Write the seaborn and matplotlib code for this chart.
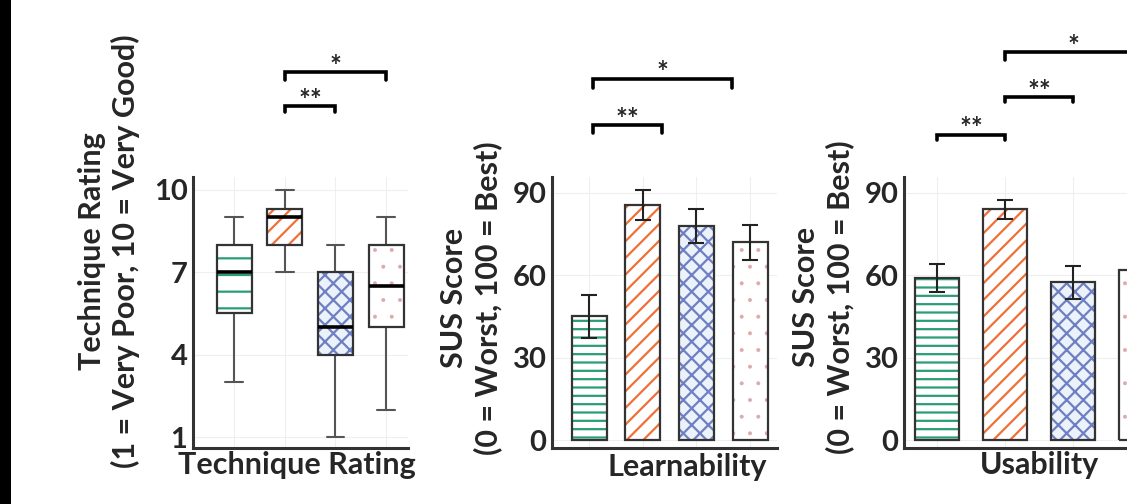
import matplotlib
matplotlib.use("Agg")
import matplotlib.pyplot as plt
import matplotlib.patches as mpatches
import seaborn as sns
import pandas as pd

# ---------------- data ----------------
techniques = ["A", "B", "C", "D"]
# five-number summaries (min, Q1, median, Q3, max)
rating_a = [3, 5.5, 7, 8, 9]
rating_b = [7, 8, 9, 9.3, 10]
rating_c = [1, 4, 5, 7, 8]
rating_d = [2, 5, 6.5, 8, 9]

learn_mean = [45, 85.5, 78, 72]
learn_err = [8, 5.5, 6.3, 6.5]
usab_mean = [59, 84, 57.5, 62]
usab_err = [5, 3.5, 6, 5]

rating_ticks = [1, 4, 7, 10]
sus_ticks = [0, 30, 60, 90]

hatch_colors = ["#2a9d78", "#f07038", "#6f7fc4", "#dcaaaa"]
fill_colors = ["#ffffff", "#ffffff", "#e9f2fc", "#ffffff"]
box_hatches = ["-", "//", "xx", "."]
bar_hatches = ["--", "//", "xx", "."]
EDGE = "#333333"

# ---------------- style ----------------
sns.set_theme(style="white")
plt.rcParams["font.family"] = ["Lato", "DejaVu Sans"]
plt.rcParams["font.weight"] = "bold"
plt.rcParams["hatch.linewidth"] = 1.6

W, H = 1127, 504
fig = plt.figure(figsize=(W / 100, H / 100), dpi=100)


def ax_at(x0, x1, y0, y1):
    return fig.add_axes([x0 / W, 1 - y1 / H, (x1 - x0) / W, (y1 - y0) / H])


def style_ax(ax, yticks):
    for s in ["top", "right"]:
        ax.spines[s].set_visible(False)
    for s in ["left", "bottom"]:
        ax.spines[s].set_color(EDGE)
        ax.spines[s].set_linewidth(2.2)
    ax.set_yticks(yticks)
    ax.set_yticklabels([str(t) for t in yticks], fontsize=21, fontweight="bold")
    ax.tick_params(axis="both", length=0, pad=4)
    ax.set_xticks(range(4))
    ax.set_xticklabels([""] * 4)
    ax.grid(True, color="#efefef", lw=0.8)
    ax.set_axisbelow(True)
    ax.set_xlabel("")
    ax.set_ylabel("")


def bracket(ax, x0, x1, y, drop, label):
    ax.plot([x0, x0, x1, x1], [y - drop, y, y, y - drop], color="black",
            lw=2.6, clip_on=False, solid_joinstyle="miter")
    ax.annotate(label, xy=((x0 + x1) / 2, y), xytext=(0, -2),
                textcoords="offset points", ha="center", va="baseline",
                fontsize=20, fontweight="bold", annotation_clip=False)


def hatch_patch(ax, p, i, hatches):
    p.set_hatch(hatches[i])
    p.set_edgecolor(hatch_colors[i])
    p.set_linewidth(0)
    if i == 3 and hasattr(p, "set_hatch_linewidth"):
        p.set_hatch_linewidth(0.4)


# ---------------- panel 1: box plot ----------------
ax1 = ax_at(193, 408, 177, 448)
df1 = pd.DataFrame({
    "tech": sum([[t] * 5 for t in techniques], []),
    "rating": rating_a + rating_b + rating_c + rating_d,
})
sns.boxplot(data=df1, x="tech", y="rating", hue="tech", palette=fill_colors,
            legend=False, width=0.69, whis=1.5, ax=ax1,
            linecolor="#555555", linewidth=1.5,
            medianprops=dict(color="black", lw=2.6, zorder=6),
            whiskerprops=dict(color="#555555", lw=1.5),
            capprops=dict(color="#555555", lw=1.5))
for i, p in enumerate(list(ax1.patches)):
    hatch_patch(ax1, p, i, box_hatches)
    ov = mpatches.PathPatch(p.get_path(), facecolor="none", edgecolor=EDGE,
                            lw=1.6, transform=p.get_transform(),
                            zorder=p.get_zorder() + 0.5)
    ax1.add_patch(ov)
ax1.set_xlim(-0.81, 3.43)
ax1.set_ylim(0.6, 10.47)
style_ax(ax1, rating_ticks)
bracket(ax1, 1, 3, 14.3, 0.3, "*")
bracket(ax1, 1, 2, 13.06, 0.22, "**")


# ---------------- panels 2 and 3: bar plots ----------------
def bars(ax, means, errs):
    sns.barplot(x=techniques, y=means, hue=techniques, palette=fill_colors,
                legend=False, width=0.65, errorbar=None, ax=ax)
    for i, p in enumerate(list(ax.patches)):
        hatch_patch(ax, p, i, bar_hatches)
        ax.add_patch(mpatches.Rectangle(p.get_xy(), p.get_width(), p.get_height(),
                                        fill=False, edgecolor=EDGE, lw=1.6,
                                        zorder=p.get_zorder() + 0.5))
    ax.errorbar(range(4), means, yerr=errs, fmt="none", ecolor="#222222",
                elinewidth=1.5, capsize=6, capthick=1.5, zorder=6)


ax2 = ax_at(552, 777, 177, 448)
bars(ax2, learn_mean, learn_err)
ax2.set_xlim(-0.69, 3.5)
ax2.set_ylim(-2.9, 95.8)
style_ax(ax2, sus_ticks)
bracket(ax2, 0.07, 2.66, 131.6, 3.3, "*")
bracket(ax2, 0.07, 1.36, 114.8, 2.9, "**")

ax3 = ax_at(904, 1175, 177, 448)
bars(ax3, usab_mean, usab_err)
ax3.set_xlim(-0.49, 3.5)
ax3.set_ylim(-2.9, 95.8)
style_ax(ax3, sus_ticks)
bracket(ax3, 0, 1, 111.2, 2.0, "**")
bracket(ax3, 1, 2, 125.0, 2.0, "**")
bracket(ax3, 1, 3, 141.4, 3.0, "*")

# ---------------- labels ----------------
FS = 22


def ftext(x, y, s, **kw):
    fig.text(x / W, 1 - y / H, s, fontsize=FS, fontweight="bold",
             ha="center", va="center", **kw)


ftext(109, 251, "Technique Rating\n(1 = Very Poor, 10 = Very Good)",
      rotation=90, linespacing=1.2)
ftext(471, 298, "SUS Score\n(0 = Worst, 100 = Best)", rotation=90, linespacing=1.2)
ftext(823, 297, "SUS Score\n(0 = Worst, 100 = Best)", rotation=90, linespacing=1.2)
ftext(297, 465, "Technique Rating")
ftext(687, 467, "Learnability")
ftext(1039, 465, "Usability")

# black strip at the left edge
fig.add_artist(mpatches.Rectangle((0, 0), 11 / W, 1, transform=fig.transFigure,
                                  facecolor="black", edgecolor="none"))

fig.savefig("out.png", dpi=100)
